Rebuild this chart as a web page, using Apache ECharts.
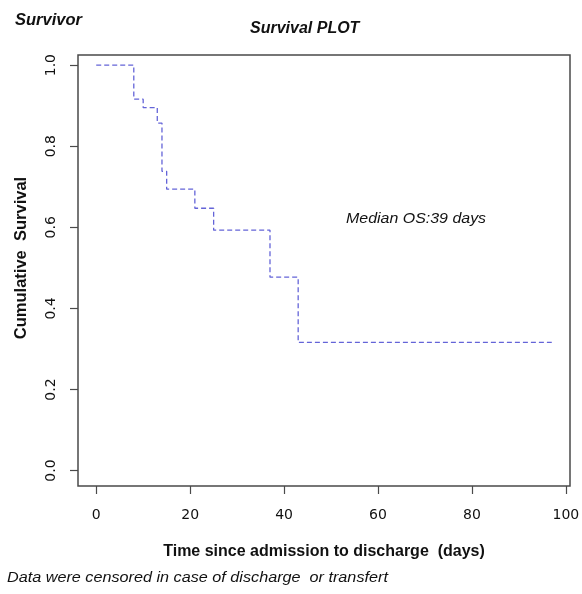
<!DOCTYPE html>
<html>
<head>
<meta charset="utf-8">
<script src="https://cdn.jsdelivr.net/npm/echarts@6/dist/echarts.min.js"></script>
<style>
html,body{margin:0;padding:0;background:#fff;}
#c{width:582px;height:594px;}
</style>
</head>
<body>
<div id="c"></div>
<script>
// Kaplan-Meier step estimates
const times = [0, 8, 10, 13, 14, 15, 21, 25, 37, 43, 97];
const survival = [1.0, 0.916, 0.895, 0.857, 0.738, 0.694, 0.647, 0.593, 0.477, 0.316, 0.316];
const xTicks = [0, 20, 40, 60, 80, 100];
const yTicks = [0, 0.2, 0.4, 0.6, 0.8, 1.0];

const chart = echarts.init(document.getElementById('c'));
const txt = '#111111';
chart.setOption({
  backgroundColor: '#ffffff',
  animation: false,
  grid: {left: 78, right: 12, top: 55, bottom: 108, outerBoundsMode: 'none', containLabel: false,
         show: true, borderColor: '#4a4a4a', borderWidth: 1.5, backgroundColor: 'transparent'},
  xAxis: {
    type: 'value', min: -3.88, max: 100.88,
    name: 'Time since admission to discharge  (days)',
    nameLocation: 'middle', nameGap: 58,
    nameTextStyle: {fontFamily: 'Liberation Sans', fontWeight: 'bold', fontSize: 16, color: txt},
    axisLine: {show: false, onZero: false},
    splitLine: {show: false},
    axisTick: {show: true, inside: false, length: 8, lineStyle: {color: '#4a4a4a', width: 1.2}, customValues: xTicks},
    axisLabel: {customValues: xTicks, margin: 22, fontFamily: 'DejaVu Sans', fontSize: 14, color: txt}
  },
  yAxis: {
    type: 'value', min: -0.038, max: 1.025,
    axisLine: {show: false, onZero: false},
    splitLine: {show: false},
    axisTick: {show: true, inside: false, length: 8, lineStyle: {color: '#4a4a4a', width: 1.2}, customValues: yTicks},
    axisLabel: {customValues: yTicks, rotate: 90, margin: 20, fontFamily: 'DejaVu Sans', fontSize: 14, color: txt,
      formatter: v => v.toFixed(1)}
  },
  series: [{
    type: 'line', step: 'end', symbol: 'none',
    data: times.map((t, i) => [t, survival[i]]),
    lineStyle: {color: '#6464d8', width: 1.3, type: [5, 3]}
  }],
  graphic: [
    {type: 'text', x: 21, y: 258, rotation: Math.PI / 2,
     style: {text: 'Cumulative  Survival', fontFamily: 'Liberation Sans', fontWeight: 'bold', fontSize: 16.5, fill: txt, align: 'center', verticalAlign: 'middle'}},
    {type: 'text', left: 15, top: 12, style: {text: 'Survivor', fontFamily: 'Liberation Sans', fontWeight: 'bold', fontStyle: 'italic', fontSize: 16.5, fill: txt}},
    {type: 'text', left: 250, top: 21, style: {text: 'Survival PLOT', fontFamily: 'Liberation Sans', fontWeight: 'bold', fontStyle: 'italic', fontSize: 16, fill: txt}},
    {type: 'text', left: 346, top: 211, scaleX: 1.1, style: {text: 'Median OS:39 days', fontFamily: 'Liberation Sans', fontStyle: 'italic', fontSize: 14.5, fill: txt}},
    {type: 'text', left: 7, top: 570, scaleX: 1.08, style: {text: 'Data were censored in case of discharge  or transfert', fontFamily: 'Liberation Sans', fontStyle: 'italic', fontSize: 15, fill: txt}}
  ]
});
</script>
</body>
</html>
